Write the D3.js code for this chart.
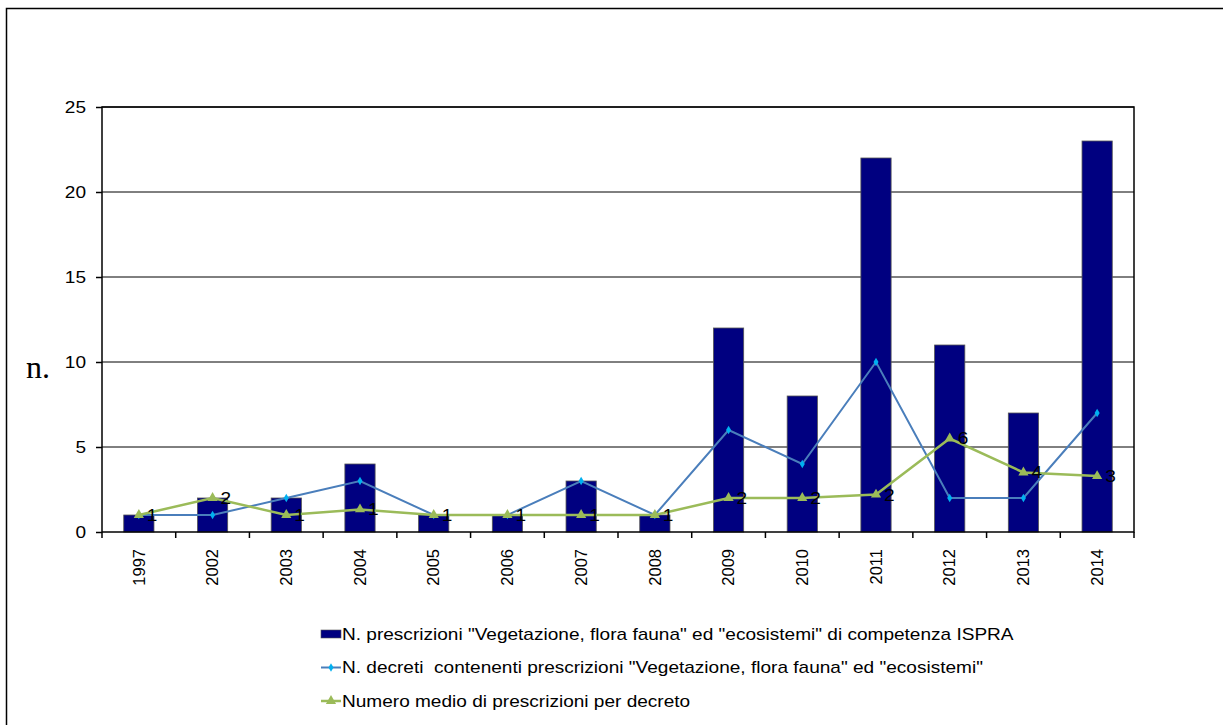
<!DOCTYPE html>
<html lang="it">
<head>
  <meta charset="UTF-8">
  <title>Prescrizioni Vegetazione, flora fauna ed ecosistemi</title>
  <script src="https://d3js.org/d3.v7.min.js"></script>
  <style>
    body { margin: 0; background: #fff; overflow: hidden; }
    svg text { font-family: "Liberation Sans", Arial, sans-serif; fill: #000; }
    .grid line { stroke: #000; stroke-width: 1; }
  </style>
</head>
<body>
  <svg width="1223" height="725"></svg>
  <script>
    const years = ["1997","2002","2003","2004","2005","2006","2007","2008","2009","2010","2011","2012","2013","2014"];
    const prescrizioni = [1, 2, 2, 4, 1, 1, 3, 1, 12, 8, 22, 11, 7, 23];
    const decreti = [1, 1, 2, 3, 1, 1, 3, 1, 6, 4, 10, 2, 2, 7];
    const medio = [1, 2, 1, 1.33, 1, 1, 1, 1, 2, 2, 2.2, 5.5, 3.5, 3.29];
    const yTicks = [0, 5, 10, 15, 20, 25];
    const legendLabels = [
      'N. prescrizioni "Vegetazione, flora fauna" ed "ecosistemi" di competenza ISPRA',
      'N. decreti  contenenti prescrizioni "Vegetazione, flora fauna" ed "ecosistemi"',
      'Numero medio di prescrizioni per decreto'
    ];

    const barColor = "#000080", blueColor = "#4A7EBB", cyan = "#00B0F0", greenColor = "#9BBB59";

    // the original text is a little wider than Arial
    function stretch(sel, k) {
      sel.each(function() {
        const w = this.getComputedTextLength();
        d3.select(this).attr("textLength", w * k).attr("lengthAdjust", "spacingAndGlyphs");
      });
    }

    const svg = d3.select("svg");
    const margin = {top: 107, left: 102, right: 89, bottom: 193};
    const width = 1223 - margin.left - margin.right,
          height = 725 - margin.top - margin.bottom;

    // outer chart border
    svg.append("rect")
      .attr("x", 6.5).attr("y", 8.5)
      .attr("width", 1300).attr("height", 800)
      .attr("fill", "none").attr("stroke", "#000").attr("stroke-width", 1.5);

    const g = svg.append("g").attr("transform", `translate(${margin.left},${margin.top})`);

    const x = d3.scaleBand().domain(years).range([0, width]).paddingInner(0.59).paddingOuter(0.295);
    const xc = d => x(d) + x.bandwidth() / 2;
    const step = width / years.length;
    const y = d3.scaleLinear().domain([0, 25]).range([height, 0]);

    // gridlines
    g.append("g").attr("class", "grid")
      .selectAll("line").data(yTicks.slice(1)).enter().append("line")
      .attr("x1", 0).attr("x2", width)
      .attr("y1", d => y(d)).attr("y2", d => y(d));

    // bars
    g.selectAll(".bar").data(prescrizioni).enter().append("rect")
      .attr("class", "bar")
      .attr("x", (d, i) => x(years[i]))
      .attr("y", d => y(d))
      .attr("width", x.bandwidth())
      .attr("height", d => height - y(d))
      .attr("fill", barColor)
      .attr("stroke", "#555").attr("stroke-width", 0.8);

    // plot frame
    g.append("rect").attr("width", width).attr("height", height)
      .attr("fill", "none").attr("stroke", "#000").attr("stroke-width", 1.5);

    // y axis
    const yAxis = d3.axisLeft(y).tickValues(yTicks).tickSize(6).tickPadding(10);
    g.append("g").call(yAxis)
      .call(s => s.select(".domain").remove())
      .call(s => s.selectAll("line").attr("stroke", "#000").attr("stroke-width", 1.5))
      .call(s => s.selectAll("text").attr("font-size", 17).attr("font-family", "Liberation Sans, Arial, sans-serif"))
      .call(s => stretch(s.selectAll("text"), 1.12));

    // x axis: ticks at category boundaries
    g.append("g").selectAll("line").data(d3.range(years.length + 1)).enter().append("line")
      .attr("x1", i => i * step).attr("x2", i => i * step)
      .attr("y1", height).attr("y2", height + 6)
      .attr("stroke", "#000").attr("stroke-width", 1.5);

    g.append("g").selectAll("text").data(years).enter().append("text")
      .attr("transform", d => `translate(${xc(d)},${height + 17}) rotate(-90)`)
      .attr("text-anchor", "end")
      .attr("dy", "0.35em")
      .attr("font-size", 16.5)
      .text(d => d);

    // y title
    svg.append("text")
      .attr("x", 26).attr("y", 378)
      .style("font-family", "'Liberation Serif', 'Times New Roman', serif")
      .attr("font-size", 32)
      .text("n.");

    // lines
    const line = d3.line().x((d, i) => xc(years[i])).y(d => y(d));

    g.append("path").datum(decreti)
      .attr("fill", "none").attr("stroke", blueColor).attr("stroke-width", 2)
      .attr("d", line);

    g.append("path").datum(medio)
      .attr("fill", "none").attr("stroke", greenColor).attr("stroke-width", 2.5)
      .attr("d", line);

    const diamond = d3.symbol().type(d3.symbolDiamond).size(22);
    const triangle = d3.symbol().type(d3.symbolTriangle).size(45);

    g.selectAll(".dia").data(decreti).enter().append("path")
      .attr("transform", (d, i) => `translate(${xc(years[i])},${y(d)})`)
      .attr("d", diamond).attr("fill", cyan);

    g.selectAll(".tri").data(medio).enter().append("path")
      .attr("transform", (d, i) => `translate(${xc(years[i])},${y(d)})`)
      .attr("d", triangle).attr("fill", greenColor);

    // data labels for average
    g.selectAll(".lbl").data(medio).enter().append("text")
      .attr("class", "lbl")
      .attr("x", (d, i) => xc(years[i]) + 8)
      .attr("y", d => y(d))
      .attr("dy", "0.35em")
      .attr("font-size", 17)
      .text(d => d3.format(".0f")(d));
    stretch(g.selectAll(".lbl"), 1.12);

    // legend
    const legend = svg.append("g").attr("transform", "translate(321,634)");
    const rowH = 33.5;
    legend.append("rect").attr("x", 0).attr("y", -4).attr("width", 20).attr("height", 8)
      .attr("fill", barColor).attr("stroke", "#555").attr("stroke-width", 0.6);
    legend.append("line").attr("x1", 0).attr("x2", 20).attr("y1", rowH).attr("y2", rowH)
      .attr("stroke", blueColor).attr("stroke-width", 2);
    legend.append("path").attr("transform", `translate(10,${rowH})`).attr("d", diamond).attr("fill", cyan);
    legend.append("line").attr("x1", 0).attr("x2", 20).attr("y1", rowH * 2).attr("y2", rowH * 2)
      .attr("stroke", greenColor).attr("stroke-width", 2.5);
    legend.append("path").attr("transform", `translate(10,${rowH * 2})`).attr("d", triangle).attr("fill", greenColor);

    legend.selectAll(".ltxt").data(legendLabels).enter().append("text")
      .attr("class", "ltxt")
      .attr("x", 21).attr("y", (d, i) => i * rowH)
      .attr("dy", "0.35em")
      .attr("font-size", 17)
      .style("white-space", "pre")
      .text(d => d);
    stretch(legend.selectAll(".ltxt"), 1.12);
  </script>
</body>
</html>
